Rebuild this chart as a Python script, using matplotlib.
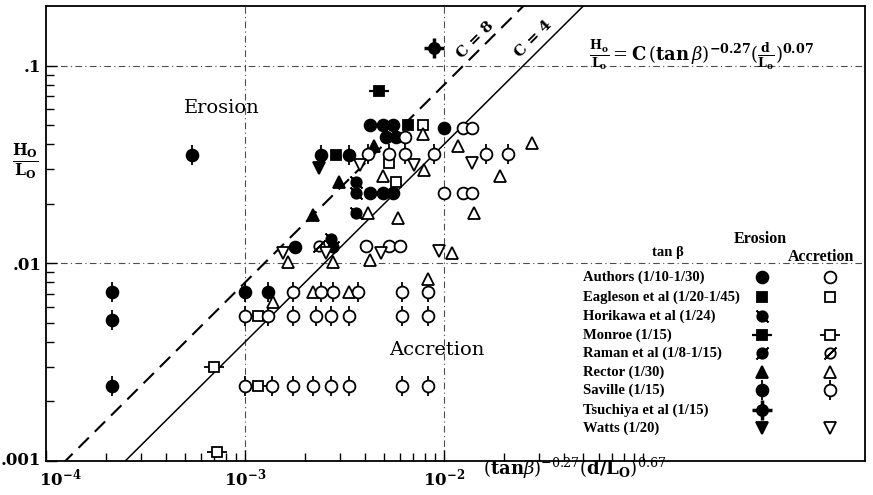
import matplotlib
matplotlib.use("Agg")
import matplotlib.pyplot as plt
import matplotlib.transforms as mtransforms
import numpy as np

plt.rcParams['font.family'] = ['DejaVu Serif']
plt.rcParams['mathtext.fontset'] = 'dejavuserif'

# Data: x = (tan b)^-0.27 (d/Lo)^0.67, y = Ho/Lo
authors_ero_x = [4.23e-3, 4.95e-3, 5.56e-3, 1.0e-2, 5.09e-3, 5.75e-3, 4.23e-3, 4.95e-3, 5.56e-3, 1.79e-3]
authors_ero_y = [0.0503, 0.0503, 0.0503, 0.0486, 0.0433, 0.0433, 0.0227, 0.0227, 0.0227, 0.0121]
authors_acc_x = [6.39e-3, 1.25e-2, 1.38e-2, 1.0e-2, 1.25e-2, 1.38e-2, 4.04e-3, 5.27e-3, 6.0e-3]
authors_acc_y = [0.0433, 0.0486, 0.0486, 0.0227, 0.0227, 0.0227, 0.0123, 0.0123, 0.0123]

eagleson_ero_x = [6.58e-3, 2.85e-3]
eagleson_ero_y = [0.0503, 0.0353]
eagleson_acc_x = [7.79e-3, 5.27e-3, 5.75e-3]
eagleson_acc_y = [0.0503, 0.032, 0.0257]

horikawa_ero_x = [3.61e-3, 3.61e-3, 3.61e-3, 2.69e-3]
horikawa_ero_y = [0.0257, 0.0227, 0.018, 0.0132]

monroe_ero_x = [4.7e-3]
monroe_ero_y = [0.0748]
monroe_acc_x = [7.0e-4, 7.2e-4, 1.16e-3, 1.16e-3]
monroe_acc_y = [0.00298, 0.00111, 0.0054, 0.00239]

raman_ero_x = [2.78e-3]
raman_ero_y = [0.0121]
raman_acc_x = [2.34e-3]
raman_acc_y = [0.0123]

rector_ero_x = [4.43e-3, 2.95e-3, 2.2e-3]
rector_ero_y = [0.0392, 0.0257, 0.0175]
rector_acc_x = [7.79e-3, 1.18e-2, 2.78e-2, 4.95e-3, 7.93e-3, 1.9e-2, 4.13e-3, 5.86e-3, 1.42e-2,
                1.65e-3, 2.78e-3, 4.23e-3, 1.1e-2, 8.3e-3, 1.38e-3, 2.2e-3, 3.31e-3]
rector_acc_y = [0.0453, 0.0392, 0.0404, 0.0278, 0.0295, 0.0278, 0.018, 0.0169, 0.018,
                0.0101, 0.0101, 0.0104, 0.0113, 0.00835, 0.00635, 0.00714, 0.00714]

saville_ero_x = [2.15e-4, 2.15e-4, 2.15e-4, 5.4e-4, 1.0e-3, 1.31e-3, 2.41e-3, 3.31e-3]
saville_ero_y = [0.00714, 0.00515, 0.00239, 0.0353, 0.00714, 0.00714, 0.0353, 0.0353]
saville_acc_x = [4.13e-3, 5.27e-3, 6.39e-3, 8.85e-3, 1.63e-2, 2.1e-2,
                 1.74e-3, 2.41e-3, 2.78e-3, 3.68e-3, 6.17e-3, 8.3e-3,
                 1.0e-3, 1.31e-3, 1.74e-3, 2.28e-3, 2.7e-3, 3.31e-3, 6.17e-3, 8.3e-3,
                 1.0e-3, 1.37e-3, 1.74e-3, 2.2e-3, 2.7e-3, 3.31e-3, 6.17e-3, 8.3e-3]
saville_acc_y = [0.0359] * 6 + [0.00714] * 6 + [0.0054] * 8 + [0.00239] * 8

tsuchiya_ero_x = [8.85e-3]
tsuchiya_ero_y = [0.123]

watts_ero_x = [2.34e-3]
watts_ero_y = [0.0302]
watts_acc_x = [3.77e-3, 7.05e-3, 1.38e-2, 1.56e-3, 2.54e-3, 4.81e-3, 9.44e-3]
watts_acc_y = [0.0313, 0.0313, 0.032, 0.0113, 0.0113, 0.0113, 0.0116]

C_values = [8, 4]

legend_names = ["Authors (1/10-1/30)", "Eagleson et al (1/20-1/45)", "Horikawa et al (1/24)",
                "Monroe (1/15)", "Raman et al (1/8-1/15)", "Rector (1/30)", "Saville (1/15)",
                "Tsuchiya et al (1/15)", "Watts (1/20)"]

fig = plt.figure(figsize=(8.73, 4.95), dpi=100)
ax = fig.add_axes([0.0527, 0.0687, 0.938, 0.919])
ax.set_xscale('log')
ax.set_yscale('log')
ax.set_xlim(1e-4, 1.3)
ax.set_ylim(1e-3, 0.2)


def draw(x, y, base, filled, ms=8.5, extra=None, extra_ms=13, extra_mew=1.3, extra_top=False, **kw):
    z = 3
    if extra is not None:
        ax.plot(x, y, ls='none', marker=extra, ms=extra_ms, mew=extra_mew, color='k',
                zorder=z + (0.2 if extra_top else 0), **kw)
    ax.plot(x, y, ls='none', marker=base, ms=ms, mfc='k' if filled else 'white', mec='k',
            mew=1.3, zorder=z + 0.1, **kw)


# marker styles: (erosion, accretion) kwargs
styles = [
    (dict(base='o', filled=True), dict(base='o', filled=False)),
    (dict(base='s', filled=True, ms=7.5), dict(base='s', filled=False, ms=7.5)),
    (dict(base='o', filled=True, ms=7.5, extra=(2, 2, 45), extra_ms=12), None),
    (dict(base='s', filled=True, ms=7, extra='_', extra_ms=15, extra_mew=1.6),
     dict(base='s', filled=False, ms=7, extra='_', extra_ms=15)),
    (dict(base='o', filled=True, ms=7.5, extra=(2, 2, -45), extra_ms=12),
     dict(base='o', filled=False, ms=7.5, extra=(2, 2, -45), extra_ms=12, extra_top=True)),
    (dict(base='^', filled=True, ms=8.5), dict(base='^', filled=False, ms=8.5)),
    (dict(base='o', filled=True, extra='|', extra_ms=14), dict(base='o', filled=False, extra='|', extra_ms=14)),
    (dict(base='o', filled=True, ms=8, extra='+', extra_ms=15, extra_mew=2.5), None),
    (dict(base='v', filled=True, ms=8.5), dict(base='v', filled=False, ms=8.5)),
]

series = [
    ((authors_ero_x, authors_ero_y), (authors_acc_x, authors_acc_y)),
    ((eagleson_ero_x, eagleson_ero_y), (eagleson_acc_x, eagleson_acc_y)),
    ((horikawa_ero_x, horikawa_ero_y), None),
    ((monroe_ero_x, monroe_ero_y), (monroe_acc_x, monroe_acc_y)),
    ((raman_ero_x, raman_ero_y), (raman_acc_x, raman_acc_y)),
    ((rector_ero_x, rector_ero_y), (rector_acc_x, rector_acc_y)),
    ((saville_ero_x, saville_ero_y), (saville_acc_x, saville_acc_y)),
    ((tsuchiya_ero_x, tsuchiya_ero_y), None),
    ((watts_ero_x, watts_ero_y), (watts_acc_x, watts_acc_y)),
]

for (ero, acc), (s_ero, s_acc) in zip(series, styles):
    draw(ero[0], ero[1], **s_ero)
    if acc is not None:
        draw(acc[0], acc[1], **s_acc)

# reference lines Ho/Lo = C * x
line_x = np.array([1e-4, 0.06])
ax.plot(line_x, C_values[0] * line_x, color='k', lw=1.5, ls=(0, (7, 4)), zorder=2)
ax.plot(line_x, C_values[1] * line_x, color='k', lw=1.1, zorder=2)
ax.annotate("C = 8", (0.0155, 8 * 0.0155), xytext=(-5, 5), textcoords='offset points',
            rotation=45, ha='center', va='center', fontsize=11, fontweight='bold')
ax.annotate("C = 4", (0.031, 4 * 0.031), xytext=(-6, 6), textcoords='offset points',
            rotation=45, ha='center', va='center', fontsize=11, fontweight='bold')

# grid lines
for v in [1e-3, 1e-2]:
    ax.axvline(v, color='0.3', lw=0.8, ls=(0, (6, 3, 1, 3)), zorder=1)
for v in [1e-2, 1e-1]:
    ax.axhline(v, color='0.3', lw=0.8, ls=(0, (6, 3, 1, 3)), zorder=1)

# ticks
ax.set_xticks([1e-4, 1e-3, 1e-2])
ax.set_xticklabels([r'$\mathbf{10^{-4}}$', r'$\mathbf{10^{-3}}$', r'$\mathbf{10^{-2}}$'], fontsize=12)
ax.set_xticks([k * 10.0 ** e for e in (-4, -3, -2) for k in range(2, 10)] + [0.1], minor=True)
ax.xaxis.set_minor_formatter(plt.NullFormatter())
ax.set_yticks([1e-3, 1e-2, 1e-1])
ax.set_yticklabels(['.001', '.01', '.1'], fontsize=12, fontweight='bold')
ax.set_yticks([k * 10.0 ** e for e in (-3, -2, -1) for k in range(2, 10) if k * 10.0 ** e < 0.2], minor=True)
ax.yaxis.set_minor_formatter(plt.NullFormatter())
ax.tick_params(which='both', direction='in', top=False, right=False, width=1.0)
ax.tick_params(which='major', length=8)
ax.tick_params(axis='x', which='major', pad=5)
ax.tick_params(which='minor', length=6)
for s in ax.spines.values():
    s.set_linewidth(1.3)

# nudge the first x label right so it clears the .001 label
first = ax.get_xticklabels()[0]
first.set_transform(first.get_transform() + mtransforms.ScaledTranslation(10 / 72, 0, fig.dpi_scale_trans))
ylow = ax.get_yticklabels()[0]
ylow.set_transform(ylow.get_transform() + mtransforms.ScaledTranslation(0, 2 / 72, fig.dpi_scale_trans))

# axis labels
ax.text(-0.025, 0.66, r'$\frac{\mathbf{H_O}}{\mathbf{L_O}}$', transform=ax.transAxes, fontsize=16,
        ha='center', va='center')
ax.text(0.645, -0.016, r'$(\mathbf{tan}\beta)^{-0.27}(\mathbf{d/L_O})^{0.67}$', transform=ax.transAxes,
        fontsize=13, ha='center', va='center')

# region labels and equation
ax.text(0.215, 0.776, "Erosion", transform=ax.transAxes, fontsize=14, ha='center', va='center')
ax.text(0.477, 0.244, "Accretion", transform=ax.transAxes, fontsize=14, ha='center', va='center')
ax.text(0.80, 0.892,
        r'$\frac{\mathbf{H_o}}{\mathbf{L_o}} = \mathbf{C}\,(\mathbf{tan}\,\beta)^{\mathbf{-0.27}}'
        r'(\frac{\mathbf{d}}{\mathbf{L_o}})^{\mathbf{0.07}}$',
        transform=ax.transAxes, fontsize=13, ha='center', va='center')

# legend
lfont = dict(family='Liberation Serif', fontweight='bold', fontsize=10.5)
ax.text(0.759, 0.459, "tan β", transform=ax.transAxes, ha='center', va='center', **lfont)
ax.text(0.872, 0.488, "Erosion", transform=ax.transAxes, ha='center', va='center',
        family='Liberation Serif', fontweight='bold', fontsize=11.5)
ax.text(0.947, 0.448, "Accretion", transform=ax.transAxes, ha='center', va='center',
        family='Liberation Serif', fontweight='bold', fontsize=11.5)
row_y = [0.404, 0.360, 0.319, 0.277, 0.237, 0.196, 0.156, 0.112, 0.073]
for name, yy, (s_ero, s_acc) in zip(legend_names, row_y, styles):
    ax.text(0.656, yy, name, transform=ax.transAxes, ha='left', va='center', **lfont)
    draw([0.874], [yy], transform=ax.transAxes, clip_on=False, **s_ero)
    if s_acc is not None:
        draw([0.957], [yy], transform=ax.transAxes, clip_on=False, **s_acc)

fig.savefig("out.png", dpi=100)
